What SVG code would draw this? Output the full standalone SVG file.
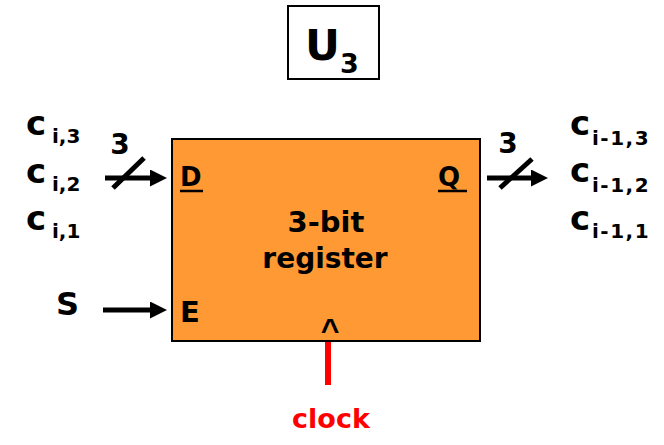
<svg xmlns="http://www.w3.org/2000/svg" width="664" height="445" viewBox="0 0 664 445">
<style>
text{font-family:"DejaVu Sans","Liberation Sans",sans-serif;font-weight:bold;fill:#000}
.big{font-size:34px}
.sub{font-size:20px}
.lbl{font-size:26px}
.ctr{text-anchor:middle}
.wire{stroke:#000;stroke-width:5;fill:none}
.slash{stroke:#000;stroke-width:5;fill:none}
</style>
<defs>
<marker id="ah" markerWidth="17" markerHeight="17" refX="5" refY="8.5" orient="auto" markerUnits="userSpaceOnUse">
<path d="M0,0 L17,8.5 L0,17 Z" fill="#000"/>
</marker>
</defs>
<rect width="664" height="445" fill="#fff"/>
<g id="title">
<rect x="288" y="6" width="91" height="73" fill="#fff" stroke="#000" stroke-width="2"/>
<text x="305" y="60" style="font-size:43px">U</text>
<text x="340" y="73" style="font-size:27px">3</text>
</g>
<g id="register">
<rect x="172" y="139" width="308" height="202" fill="#FF9933" stroke="#000" stroke-width="2"/>
<text x="180" y="186" class="lbl">D</text>
<line x1="180" y1="191" x2="203" y2="191" stroke="#000" stroke-width="2.5"/>
<text x="438" y="186" class="lbl">Q</text>
<line x1="438" y1="191" x2="467" y2="191" stroke="#000" stroke-width="2.5"/>
<text x="180" y="322" style="font-size:29px">E</text>
<text x="330" y="341" class="ctr" style="font-family:'Liberation Sans',sans-serif;font-size:32px">^</text>
<text x="326" y="232" class="ctr" style="font-size:29px">3-bit</text>
<text x="325" y="268" class="ctr" style="font-size:28px">register</text>
</g>
<g id="inputs">
<text x="26" y="135" class="big">c</text><text x="52" y="143" class="sub">i,3</text>
<text x="26" y="183" class="big">c</text><text x="52" y="191" class="sub">i,2</text>
<text x="26" y="230" class="big">c</text><text x="52" y="238" class="sub">i,1</text>
<text x="56" y="315" style="font-size:32px">S</text>
</g>
<g id="outputs">
<text x="570" y="135" class="big">c</text><text x="592" y="145" class="sub" style="letter-spacing:1.5px">i-1,3</text>
<text x="570" y="182" class="big">c</text><text x="592" y="192" class="sub" style="letter-spacing:1.5px">i-1,2</text>
<text x="570" y="230" class="big">c</text><text x="592" y="238" class="sub" style="letter-spacing:1.5px">i-1,1</text>
</g>
<g id="clock">
<text x="331" y="428" class="ctr" style="fill:#FF0000;font-size:27px">clock</text>
</g>
<g id="connectors">
<line x1="105" y1="178" x2="155" y2="178" class="wire" marker-end="url(#ah)"/>
<line x1="113" y1="188" x2="144" y2="158" class="slash"/>
<text x="120" y="154" class="ctr" style="font-size:28px">3</text>
<line x1="487" y1="178" x2="536" y2="178" class="wire" marker-end="url(#ah)"/>
<line x1="500" y1="188" x2="532" y2="159" class="slash"/>
<text x="508" y="153" class="ctr" style="font-size:28px">3</text>
<line x1="103" y1="310" x2="155" y2="310" class="wire" marker-end="url(#ah)"/>
<line x1="328" y1="342" x2="328" y2="385" stroke="#FF0000" stroke-width="6"/>
</g>
</svg>
